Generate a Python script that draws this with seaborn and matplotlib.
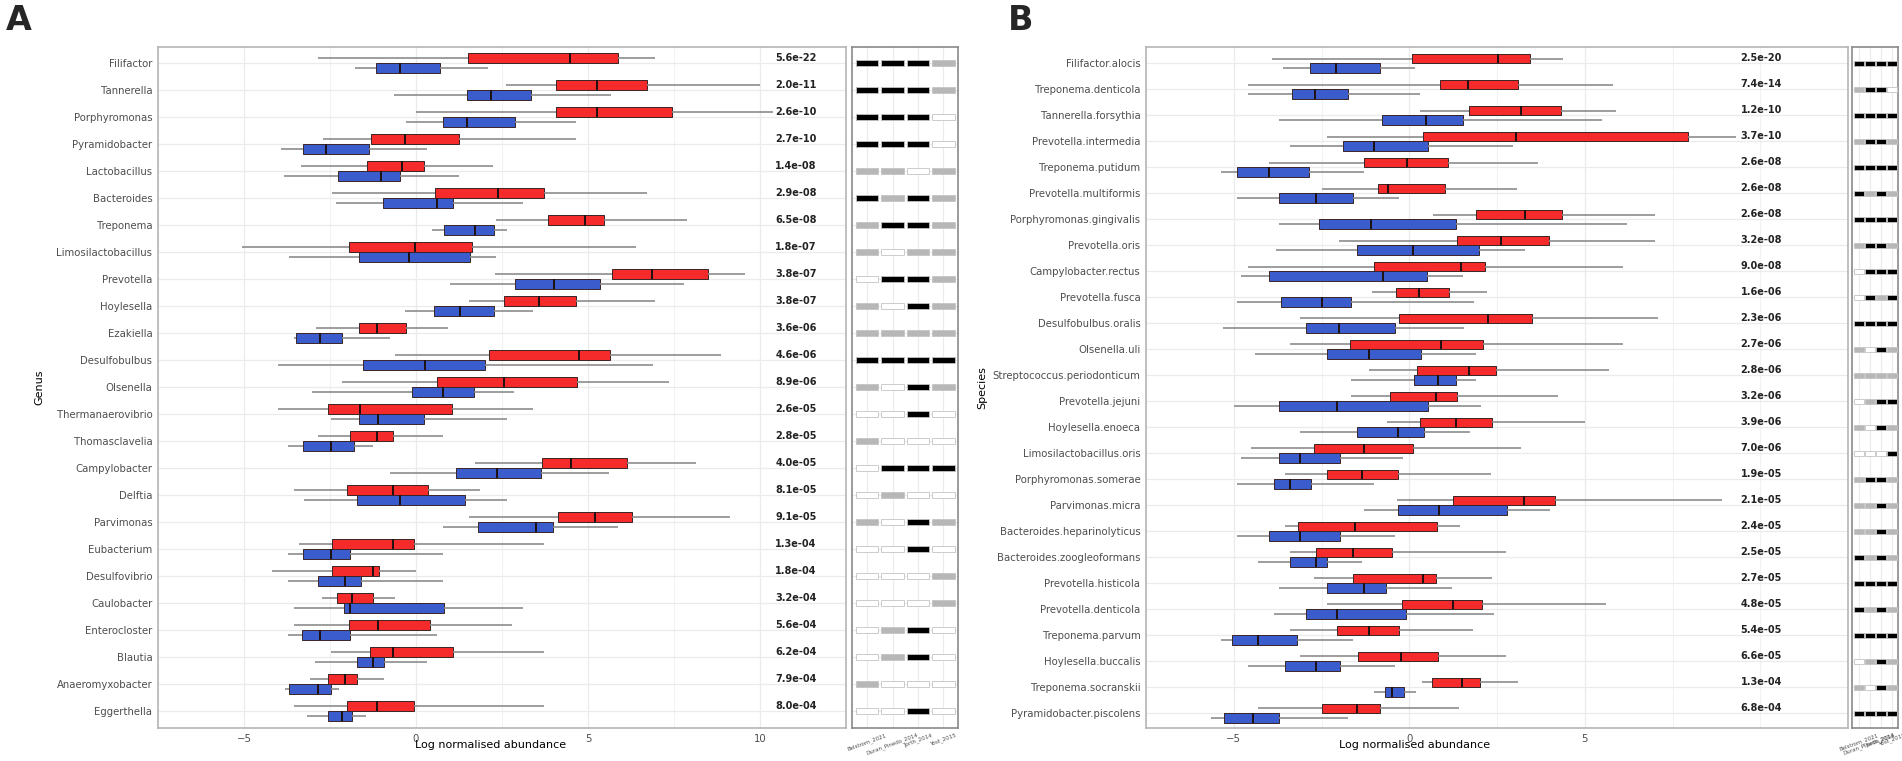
import numpy as np
import pandas as pd
import matplotlib
matplotlib.use("Agg")
import matplotlib.pyplot as plt
import seaborn as sns

# Studies shown in the small side strips
STUDIES = ["Belstrom_2021", "Duran_Pinedo_2014", "Jorth_2014", "Yost_2015"]

# ---- Panel A : genus level ----
# box summaries: [min, q1, median, q3, max]
genus = ["Filifactor", "Tannerella", "Porphyromonas", "Pyramidobacter", "Lactobacillus",
         "Bacteroides", "Treponema", "Limosilactobacillus", "Prevotella", "Hoylesella",
         "Ezakiella", "Desulfobulbus", "Olsenella", "Thermanaerovibrio", "Thomasclavelia",
         "Campylobacter", "Delftia", "Parvimonas", "Eubacterium", "Desulfovibrio",
         "Caulobacter", "Enterocloster", "Blautia", "Anaeromyxobacter", "Eggerthella"]
genus_red = [
    [-2.86, 1.52, 4.49, 5.87, 6.95], [2.63, 4.06, 5.27, 6.71, 10.0],
    [0.0, 4.06, 5.27, 7.44, 10.39], [-2.7, -1.3, -0.31, 1.24, 4.65],
    [-3.34, -1.43, -0.41, 0.23, 2.23], [-2.44, 0.56, 2.39, 3.72, 6.72],
    [2.33, 3.85, 4.9, 5.47, 7.87], [-5.07, -1.94, -0.03, 1.64, 6.39],
    [2.29, 5.7, 6.85, 8.48, 9.57], [1.55, 2.57, 3.59, 4.65, 6.95],
    [-2.91, -1.67, -1.14, -0.28, 0.93], [-0.62, 2.11, 4.74, 5.65, 8.86],
    [-2.16, 0.62, 2.57, 4.68, 7.36], [-4.02, -2.57, -1.63, 1.06, 3.41],
    [-2.85, -1.92, -1.14, -0.68, 0.78], [1.71, 3.66, 4.5, 6.14, 8.15],
    [-3.56, -2.01, -0.68, 0.34, 1.86], [1.55, 4.12, 5.2, 6.29, 9.14],
    [-3.4, -2.44, -0.68, -0.06, 3.72], [-4.18, -2.44, -1.24, -1.09, 0.0],
    [-2.72, -2.29, -1.85, -1.24, -0.62], [-3.56, -1.95, -1.11, 0.4, 2.79],
    [-2.47, -1.33, -0.68, 1.09, 3.72], [-3.09, -2.57, -2.07, -1.71, -0.93],
    [-3.56, -2.01, -1.14, -0.06, 3.72]]
genus_blue = [
    [-1.76, -1.15, -0.46, 0.71, 2.1], [-0.64, 1.49, 2.17, 3.34, 5.68],
    [-0.28, 0.78, 1.49, 2.88, 4.65], [-3.92, -3.28, -2.62, -1.38, 0.31],
    [-3.85, -2.27, -1.02, -0.46, 1.24], [-2.32, -0.97, 0.62, 1.09, 3.1],
    [0.47, 0.81, 1.71, 2.27, 2.64], [-3.69, -1.66, -0.2, 1.58, 2.33],
    [0.99, 2.88, 4.02, 5.36, 7.79], [-0.31, 0.53, 1.27, 2.27, 3.41],
    [-3.56, -3.5, -2.78, -2.16, -0.77], [-4.02, -1.55, 0.25, 2.01, 6.88],
    [-3.03, -0.12, 0.78, 1.68, 2.85], [-2.47, -1.66, -1.1, 0.22, 2.64],
    [-3.71, -3.28, -2.47, -1.8, -1.24], [-0.77, 1.15, 2.36, 3.63, 5.6],
    [-3.25, -1.71, -0.46, 1.43, 2.64], [0.78, 1.8, 3.5, 3.97, 5.86],
    [-3.71, -3.28, -2.47, -1.92, 0.78], [-3.71, -2.85, -2.07, -1.61, 0.78],
    [-3.56, -2.1, -1.92, 0.81, 3.1], [-3.71, -3.31, -2.78, -1.92, 0.62],
    [-2.94, -1.71, -1.24, -0.93, 0.31], [-3.8, -3.68, -2.85, -2.47, -2.23],
    [-3.16, -2.57, -2.16, -1.85, -1.45]]
genus_pval = ["5.6e-22", "2.0e-11", "2.6e-10", "2.7e-10", "1.4e-08", "2.9e-08", "6.5e-08",
              "1.8e-07", "3.8e-07", "3.8e-07", "3.6e-06", "4.6e-06", "8.9e-06", "2.6e-05",
              "2.8e-05", "4.0e-05", "8.1e-05", "9.1e-05", "1.3e-04", "1.8e-04", "3.2e-04",
              "5.6e-04", "6.2e-04", "7.9e-04", "8.0e-04"]
# per study: B = black, G = grey, W = white
genus_studies = ["BBBG", "BBBG", "BBBW", "BBBW", "GGWG", "BGBG", "GBBG", "GWGG", "WBBG",
                 "GWBG", "GGGG", "BBBB", "GWBG", "WWBW", "GWWW", "WBBB", "WGWW", "GWBG",
                 "WWBW", "WWWG", "WWWG", "WGBW", "WGBW", "GWWW", "WWBW"]

# ---- Panel B : species level ----
species = ["Filifactor.alocis", "Treponema.denticola", "Tannerella.forsythia",
           "Prevotella.intermedia", "Treponema.putidum", "Prevotella.multiformis",
           "Porphyromonas.gingivalis", "Prevotella.oris", "Campylobacter.rectus",
           "Prevotella.fusca", "Desulfobulbus.oralis", "Olsenella.uli",
           "Streptococcus.periodonticum", "Prevotella.jejuni", "Hoylesella.enoeca",
           "Limosilactobacillus.oris", "Porphyromonas.somerae", "Parvimonas.micra",
           "Bacteroides.heparinolyticus", "Bacteroides.zoogleoformans", "Prevotella.histicola",
           "Prevotella.denticola", "Treponema.parvum", "Hoylesella.buccalis",
           "Treponema.socranskii", "Pyramidobacter.piscolens"]
species_red = [
    [-3.9, 0.07, 2.54, 3.45, 4.38], [-4.6, 0.88, 1.68, 3.09, 5.8],
    [0.32, 1.71, 3.18, 4.31, 5.9], [-2.35, 0.39, 3.03, 7.94, 9.3],
    [-4.0, -1.3, -0.07, 1.1, 3.67], [-2.5, -0.9, -0.61, 1.03, 3.06],
    [0.69, 1.91, 3.31, 4.36, 7.0], [-2.0, 1.36, 2.6, 3.97, 7.0],
    [-4.6, -1.0, 1.48, 2.16, 6.1], [-1.05, -0.37, 0.29, 1.12, 2.22],
    [-3.1, -0.29, 2.25, 3.5, 7.1], [-3.4, -1.7, 0.91, 2.1, 6.1],
    [-1.15, 0.21, 1.69, 2.48, 5.7], [-1.66, -0.56, 0.76, 1.36, 4.24],
    [-0.64, 0.32, 1.34, 2.35, 5.0], [-4.5, -2.7, -1.3, 0.12, 3.19],
    [-3.55, -2.35, -1.36, -0.32, 2.32], [-0.35, 1.24, 3.28, 4.14, 8.9],
    [-3.55, -3.16, -1.54, 0.78, 1.46], [-3.4, -2.65, -1.6, -0.49, 2.75],
    [-2.7, -1.6, 0.38, 0.76, 2.35], [-2.35, -0.2, 1.25, 2.06, 5.6],
    [-3.4, -2.05, -1.15, -0.29, 1.83], [-3.1, -1.45, -0.24, 0.81, 2.77],
    [0.36, 0.66, 1.5, 2.02, 3.1], [-4.3, -2.5, -1.5, -0.84, 1.42]]
species_blue = [
    [-3.6, -2.83, -2.08, -0.83, 0.15], [-4.6, -3.34, -2.68, -1.75, 0.32],
    [-3.7, -0.78, 0.47, 1.52, 5.5], [-3.4, -1.9, -1.0, 0.54, 2.96],
    [-5.36, -4.9, -4.0, -2.86, -1.3], [-4.9, -3.7, -2.65, -1.6, -0.28],
    [-3.7, -2.56, -1.1, 1.32, 6.2], [-3.8, -1.5, 0.12, 1.99, 3.3],
    [-4.8, -4.0, -0.74, 0.51, 1.52], [-4.9, -3.64, -2.5, -1.66, 1.84],
    [-5.3, -2.95, -2.0, -0.42, 1.57], [-4.4, -2.35, -1.15, 0.34, 1.89],
    [-1.67, 0.14, 0.83, 1.32, 1.89], [-5.0, -3.7, -2.05, 0.54, 2.03],
    [-3.1, -1.5, -0.32, 0.43, 1.73], [-4.8, -3.7, -3.1, -1.96, -0.17],
    [-4.9, -3.85, -3.4, -2.8, -1.0], [-1.3, -0.32, 0.86, 2.79, 4.02],
    [-4.9, -4.0, -3.1, -1.96, -0.4], [-4.3, -3.4, -2.65, -2.35, -1.35],
    [-3.7, -2.35, -1.3, -0.66, 1.23], [-3.85, -2.95, -2.05, -0.1, 2.42],
    [-5.36, -5.06, -4.3, -3.19, -1.6], [-4.6, -3.55, -2.65, -1.96, -0.4],
    [-1.0, -0.69, -0.48, -0.15, 0.2], [-5.66, -5.27, -4.46, -3.7, -1.75]]
species_pval = ["2.5e-20", "7.4e-14", "1.2e-10", "3.7e-10", "2.6e-08", "2.6e-08", "2.6e-08",
                "3.2e-08", "9.0e-08", "1.6e-06", "2.3e-06", "2.7e-06", "2.8e-06", "3.2e-06",
                "3.9e-06", "7.0e-06", "1.9e-05", "2.1e-05", "2.4e-05", "2.5e-05", "2.7e-05",
                "4.8e-05", "5.4e-05", "6.6e-05", "1.3e-04", "6.8e-04"]
species_studies = ["BBBB", "GBBW", "BBBB", "GBBG", "BBBB", "BGBG", "BBBB", "GBBG", "WBBB",
                   "WBGB", "BBBB", "GWBG", "GGGG", "WGBB", "GWBG", "WWWB", "GBBG", "GGBG",
                   "GGBG", "BGBG", "BBBB", "BGBG", "BBBB", "WGBG", "GWBG", "BBBB"]

GROUPS = ["Periodontitis", "Health"]
PALETTE = {"Periodontitis": "#F52A2A", "Health": "#3A5CCD"}
SIG_COLOURS = {"B": "#000000", "G": "#b7b7b7", "W": "#ffffff"}
GRID = "#ebebeb"
FRAME = "#b5b5b5"


def long_table(names, red, blue):
    rows = []
    for name, r, b in zip(names, red, blue):
        for v in r:
            rows.append((name, GROUPS[0], v))
        for v in b:
            rows.append((name, GROUPS[1], v))
    return pd.DataFrame(rows, columns=["taxon", "group", "value"])


def draw_boxes(ax, names, red, blue, pvals, xlim, ylim, ticks, ptext_x, ylabel, xlab_x, ylab_x):
    df = long_table(names, red, blue)
    sns.boxplot(data=df, x="value", y="taxon", hue="group", order=names,
                hue_order=GROUPS, palette=PALETTE, saturation=1, orient="h",
                whis=(0, 100), width=0.74, gap=0, showcaps=False, showfliers=False,
                linewidth=0.7, linecolor="#3a2424",
                whiskerprops={"color": "#8c8c8c", "linewidth": 1.2},
                medianprops={"color": "#1e1010", "linewidth": 1.4},
                legend=False, ax=ax)

    ax.set_xlim(*xlim)
    ax.set_ylim(*ylim)
    ax.set_xticks(ticks)
    ax.set_xticks(np.arange(-7.5, 12.6, 2.5), minor=True)
    ax.xaxis.grid(True, which="major", color=GRID, lw=0.9)
    ax.xaxis.grid(True, which="minor", color="#f2f2f2", lw=0.8)
    ax.yaxis.grid(True, color=GRID, lw=0.9)
    ax.set_axisbelow(True)
    for s in ax.spines.values():
        s.set_visible(True)
        s.set_color(FRAME)
        s.set_linewidth(1.2)
    ax.tick_params(axis="both", which="major", length=2.5, width=0.8, color=FRAME,
                   labelsize=7.3, labelcolor="#4d4d4d", pad=1.5)
    ax.tick_params(axis="x", which="minor", length=0)
    ax.set_xlabel("Log normalised abundance", fontsize=8, color="black")
    ax.set_ylabel(ylabel, fontsize=8, color="black")
    ax.xaxis.set_label_coords(xlab_x, -0.0176)
    ax.yaxis.set_label_coords(ylab_x, 0.5)

    for i, p in enumerate(pvals):
        ax.text(ptext_x, i - 0.2, p, ha="left", va="center", fontsize=7,
                fontweight="bold", color="#222222")


def draw_strip(ax, sig, ylim):
    n = len(sig)
    for j in range(len(STUDIES)):
        cols = [SIG_COLOURS[s[j]] for s in sig]
        ax.barh(np.arange(n), 0.9, left=j - 0.45, height=0.2, color=cols,
                edgecolor="#c4c4c4", linewidth=0.6, zorder=3)
    ax.set_xlim(-0.59, 3.57)
    ax.set_ylim(*ylim)
    ax.set_yticks(np.arange(n))
    ax.set_yticklabels([])
    ax.set_xticks(np.arange(len(STUDIES)))
    ax.set_xticklabels(STUDIES, rotation=20, fontsize=4, color="#4d4d4d")
    ax.grid(True, color=GRID, lw=0.8)
    ax.set_axisbelow(True)
    for s in ax.spines.values():
        s.set_visible(True)
        s.set_color("#8a8a8a")
        s.set_linewidth(1.2)
    ax.tick_params(axis="both", length=2, width=0.7, color=FRAME, pad=1)


sns.set_theme(style="whitegrid")
plt.rcParams["font.family"] = ["DejaVu Sans"]

W, H = 1902, 761
fig = plt.figure(figsize=(W / 100, H / 100), dpi=100)
top, bottom = 47, 728
ax_a = fig.add_axes([158 / W, 1 - bottom / H, 688 / W, (bottom - top) / H])
strip_a = fig.add_axes([852 / W, 1 - bottom / H, 106 / W, (bottom - top) / H])
ax_b = fig.add_axes([1146 / W, 1 - bottom / H, 702 / W, (bottom - top) / H])
strip_b = fig.add_axes([1852 / W, 1 - bottom / H, 46 / W, (bottom - top) / H])

ylim_a = (len(genus) - 1 + 0.63, -0.6)
ylim_b = (len(species) - 1 + 0.57, -0.63)

draw_boxes(ax_a, genus, genus_red, genus_blue, genus_pval, (-5.89, 11.6), ylim_a,
           [-5, 0, 5, 10], 10.44, "Genus", 0.483, -0.165)
draw_strip(strip_a, genus_studies, ylim_a)

draw_boxes(ax_b, species, species_red, species_blue, species_pval, (-6.64, 10.56), ylim_b,
           [-5, 0, 5], 9.44, "Species", 0.382, -0.226)
draw_strip(strip_b, species_studies, ylim_b)

fig.text(0.003, 0.995, "A", fontsize=24, fontweight="bold", va="top", ha="left")
fig.text(0.530, 0.995, "B", fontsize=24, fontweight="bold", va="top", ha="left")

fig.savefig("out.png", dpi=100)
